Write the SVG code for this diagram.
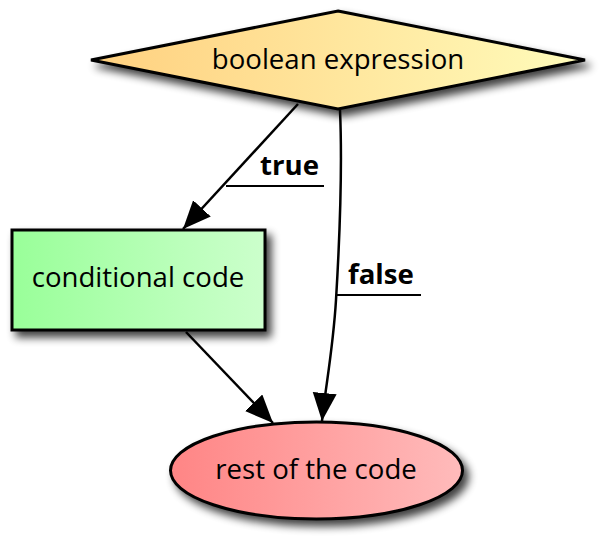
<svg xmlns="http://www.w3.org/2000/svg" width="611" height="547" viewBox="0 0 611 547">
<defs>
<style>
.node{stroke:#000;stroke-width:3;}
.lbl{font-family:"Open Sans","DejaVu Sans",sans-serif;font-size:27.6px;fill:#000;text-anchor:middle;}
.elbl{font-family:"Open Sans","DejaVu Sans",sans-serif;font-size:27.6px;font-weight:bold;fill:#000;}
.edge{fill:none;stroke:#000;stroke-width:2.5;}
.ul{fill:none;stroke:#000;stroke-width:2.2;}
</style>
<linearGradient id="gY" x1="0" y1="0" x2="1" y2="0"><stop offset="0" stop-color="#ffd07f"/><stop offset="1" stop-color="#fffcbb"/></linearGradient>
<linearGradient id="gG" x1="0" y1="0" x2="1" y2="0"><stop offset="0" stop-color="#99ff99"/><stop offset="1" stop-color="#ccffcc"/></linearGradient>
<linearGradient id="gR" x1="0" y1="0" x2="1" y2="0"><stop offset="0" stop-color="#ff8585"/><stop offset="1" stop-color="#ffbbbb"/></linearGradient>
<filter id="sh" x="-20%" y="-20%" width="150%" height="160%">
<feGaussianBlur in="SourceAlpha" stdDeviation="4"/>
<feOffset dx="5" dy="6" result="b"/>
<feComponentTransfer><feFuncA type="linear" slope="0.75"/></feComponentTransfer>
<feMerge><feMergeNode/><feMergeNode in="SourceGraphic"/></feMerge>
</filter>
<marker id="ah" markerUnits="userSpaceOnUse" markerWidth="30" markerHeight="26" refX="28" refY="12" orient="auto" viewBox="0 0 30 26">
<path d="M0,0 L28,12 L0,24 z" fill="#000"/>
</marker>
</defs>
<g id="n_bool">
<polygon class="node" points="338,11 585,60 338,109 91,60" fill="url(#gY)" filter="url(#sh)"/>
<text class="lbl" x="338" y="69">boolean expression</text>
</g>
<g id="n_cond">
<rect class="node" x="12" y="230" width="253" height="100" fill="url(#gG)" filter="url(#sh)"/>
<text class="lbl" x="138" y="287">conditional code</text>
</g>
<g id="n_rest">
<ellipse class="node" cx="316.5" cy="470.5" rx="146" ry="48.5" fill="url(#gR)" filter="url(#sh)"/>
<text class="lbl" x="316" y="479">rest of the code</text>
</g>
<g id="edges">
<path class="edge" d="M298,104 L183,229" marker-end="url(#ah)"/>
<path class="ul" d="M226,186 L324,186"/>
<text class="elbl" x="260" y="175">true</text>
<path class="edge" d="M340,110 C343,180 339,250 336,300 C333,350 325,390 322,421" marker-end="url(#ah)"/>
<path class="ul" d="M336,295 L421,295"/>
<text class="elbl" x="348" y="284">false</text>
<path class="edge" d="M186,332 L273,423" marker-end="url(#ah)"/>
</g>
</svg>
